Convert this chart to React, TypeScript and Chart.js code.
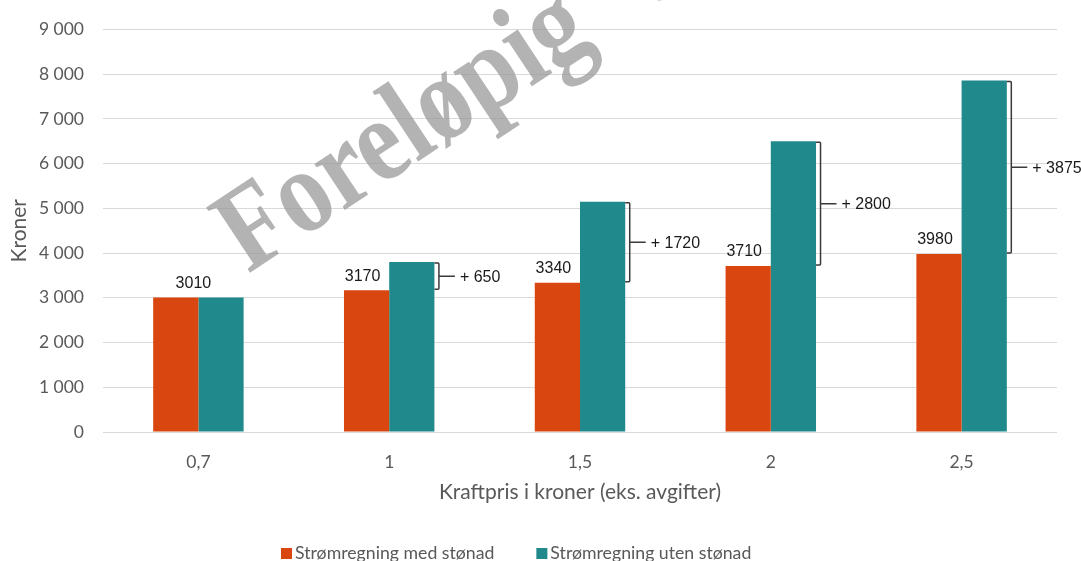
import React, { useEffect, useRef } from "react";
import { Chart, registerables } from "chart.js";

Chart.register(...registerables);

const categories = ["0,7", "1", "1,5", "2", "2,5"];
const medStonad = [3010, 3170, 3340, 3710, 3980];
const utenStonad = [3010, 3800, 5150, 6500, 7860];
const diffLabels = ["", "+ 650", "+ 1720", "+ 2800", "+ 3875"];
const seriesNames = ["Strømregning med stønad", "Strømregning uten stønad"];
const seriesColors = ["#D9460F", "#1F898C"];
const yTitle = "Kroner";
const xTitle = "Kraftpris i kroner (eks. avgifter)";
const watermarkText = "Foreløpig tall";

const W = 1081;
const H = 561;

const fmt = (v: number) => String(v).replace(/\B(?=(\d{3})+(?!\d))/g, " ");

const watermarkPlugin = {
  id: "watermark",
  beforeDatasetsDraw(chart: any) {
    const ctx = chart.ctx;
    ctx.save();
    ctx.translate(248, 274);
    ctx.rotate((-33.5 * Math.PI) / 180);
    ctx.scale(0.85, 1);
    ctx.font = 'bold 120px "Liberation Serif"';
    try {
      (ctx as any).wordSpacing = "45px";
    } catch (e) {}
    ctx.fillStyle = "rgba(150,150,150,0.72)";
    ctx.textBaseline = "alphabetic";
    ctx.textAlign = "left";
    ctx.fillText(watermarkText, 0, 0);
    ctx.restore();
  },
};

const annotationsPlugin = {
  id: "annots",
  afterDatasetsDraw(chart: any) {
    const ctx = chart.ctx;
    const m0 = chart.getDatasetMeta(0);
    const m1 = chart.getDatasetMeta(1);
    ctx.save();
    ctx.font = '16px "Liberation Sans"';
    ctx.fillStyle = "#1a1a1a";
    ctx.textAlign = "center";
    ctx.textBaseline = "middle";
    medStonad.forEach((v, i) => {
      const a = m0.data[i];
      const b = m1.data[i];
      const x = v === utenStonad[i] ? (a.x + b.x) / 2 - 5 : a.x - 4;
      ctx.fillText(String(v), x, a.y - 14);
    });
    ctx.strokeStyle = "#3a3a3a";
    ctx.lineWidth = 1.5;
    diffLabels.forEach((lab, i) => {
      if (!lab) return;
      const a = m0.data[i];
      const b = m1.data[i];
      const x0 = b.x + b.width / 2;
      const xl = x0 + 4.5;
      const yTop = b.y + 1;
      const yBot = a.y - 1;
      const ym = (yTop + yBot) / 2;
      ctx.beginPath();
      ctx.moveTo(x0, yTop);
      ctx.lineTo(xl - 1, yTop);
      ctx.quadraticCurveTo(xl, yTop, xl, yTop + 1);
      ctx.lineTo(xl, yBot - 1);
      ctx.quadraticCurveTo(xl, yBot, xl - 1, yBot);
      ctx.lineTo(x0, yBot);
      ctx.moveTo(xl, ym);
      ctx.lineTo(xl + 16, ym);
      ctx.stroke();
      ctx.textAlign = "left";
      ctx.fillText(lab, xl + 21, ym + 1);
    });
    ctx.restore();
  },
};

const legendPlugin = {
  id: "customLegend",
  afterDraw(chart: any) {
    const ctx = chart.ctx;
    ctx.save();
    ctx.font = "17.7px Lato";
    ctx.textBaseline = "middle";
    ctx.textAlign = "left";
    let x = 281;
    const yMid = 553;
    chart.data.datasets.forEach((ds: any) => {
      ctx.fillStyle = ds.backgroundColor;
      ctx.fillRect(x, yMid - 5, 11, 11);
      x += 14;
      ctx.fillStyle = "#595959";
      ctx.fillText(ds.label, x, yMid);
      x += ctx.measureText(ds.label).width + 42;
    });
    ctx.restore();
  },
};

export default function App() {
  const ref = useRef<HTMLCanvasElement | null>(null);
  useEffect(() => {
    if (!ref.current) return;
    const chart = new Chart(ref.current, {
      type: "bar",
      data: {
        labels: categories,
        datasets: [
          {
            label: seriesNames[0],
            data: medStonad,
            backgroundColor: seriesColors[0],
            categoryPercentage: 0.474,
            barPercentage: 1,
          },
          {
            label: seriesNames[1],
            data: utenStonad,
            backgroundColor: seriesColors[1],
            categoryPercentage: 0.474,
            barPercentage: 1,
          },
        ],
      },
      options: {
        animation: false,
        responsive: false,
        devicePixelRatio: 1,
        layout: { padding: { left: 0, right: 24, top: 25, bottom: 0 } },
        plugins: {
          legend: { display: false },
          tooltip: { enabled: false },
        },
        scales: {
          x: {
            grid: { display: false, drawTicks: false },
            border: { display: false },
            ticks: { color: "#595959", font: { family: "Lato", size: 17.5 }, padding: 20 },
            title: {
              display: true,
              text: xTitle,
              color: "#595959",
              font: { family: "Lato", size: 21 },
              padding: { top: 0, bottom: 56 },
            },
            afterFit: (s: any) => {
              s.height = H - 432;
            },
          },
          y: {
            min: 0,
            max: 9000,
            grid: { color: "#d9d9d9", lineWidth: 1, drawTicks: false },
            border: { display: false },
            ticks: {
              stepSize: 1000,
              color: "#595959",
              font: { family: "Lato", size: 17.5 },
              padding: 19,
              callback: (v: any) => fmt(Number(v)),
            },
            title: {
              display: true,
              text: yTitle,
              color: "#595959",
              font: { family: "Lato", size: 21 },
              padding: { top: 7, bottom: 0 },
            },
            afterFit: (s: any) => {
              s.width = 103;
            },
          },
        },
      },
      plugins: [watermarkPlugin, annotationsPlugin, legendPlugin],
    });
    return () => chart.destroy();
  }, []);
  return (
    <div style={{ position: "absolute", left: 0, top: 0, width: W, height: H, overflow: "hidden", background: "#fff" }}>
      <canvas ref={ref} width={W} height={H} style={{ display: "block" }} />
    </div>
  );
}
